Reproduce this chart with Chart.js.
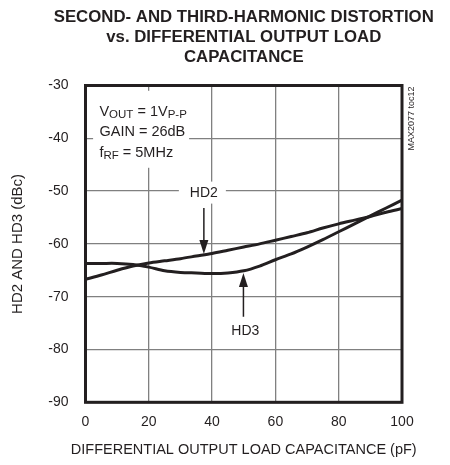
<!DOCTYPE html>
<html>
<head>
<meta charset="utf-8">
<script src="https://cdn.jsdelivr.net/npm/chart.js@4.4.0/dist/chart.umd.min.js"></script>
<style>
  html, body { margin: 0; padding: 0; background: #fff; }
</style>
</head>
<body>
<canvas id="distChart" width="450" height="465"></canvas>
<script>
// Values (pF vs dBc)
const capPf = [0, 5, 10, 15, 20, 25, 30, 35, 40, 45, 50, 55, 60, 65, 70, 75, 80, 85, 90, 95, 100];
const hd2 = [-66.7, -65.9, -65.0, -64.2, -63.6, -63.2, -62.8, -62.3, -61.8, -61.2, -60.6, -60.0, -59.3, -58.6, -57.9, -57.0, -56.2, -55.5, -54.8, -54.0, -53.3];
const hd3 = [-63.7, -63.7, -63.7, -63.9, -64.4, -65.1, -65.4, -65.5, -65.6, -65.5, -65.1, -64.2, -63.0, -61.9, -60.6, -59.2, -57.7, -56.2, -54.7, -53.2, -51.7];

const xTicks = [0, 20, 40, 60, 80, 100];
const yTicks = [-90, -80, -70, -60, -50, -40, -30];

const titleLines = ['SECOND- AND THIRD-HARMONIC DISTORTION', 'vs. DIFFERENTIAL OUTPUT LOAD', 'CAPACITANCE'];
const xTitle = 'DIFFERENTIAL OUTPUT LOAD CAPACITANCE (pF)';
const yTitle = 'HD2 AND HD3 (dBc)';
const tocLabel = 'MAX2077 toc12';
// test conditions, second item = subscript
const condLines = [
    [['V', 0], ['OUT', 1], [' = 1V', 0], ['P-P', 1]],
    [['GAIN = 26dB', 0]],
    [['f', 0], ['RF', 1], [' = 5MHz', 0]]
];

const INK = '#231f20';
const GRID = '#808080';
const FONT = '"Liberation Sans", Arial, Helvetica, sans-serif';

function drawArrow(ctx, x, yFrom, yTip) {
    const dir = yTip > yFrom ? 1 : -1;
    ctx.lineWidth = 1.5;
    ctx.beginPath();
    ctx.moveTo(x, yFrom);
    ctx.lineTo(x, yTip - dir * 10);
    ctx.stroke();
    ctx.beginPath();
    ctx.moveTo(x, yTip);
    ctx.lineTo(x - 4.5, yTip - dir * 14);
    ctx.lineTo(x + 4.5, yTip - dir * 14);
    ctx.closePath();
    ctx.fill();
}

const notesPlugin = {
    id: 'notes',
    beforeDatasetsDraw(chart) {
        const { ctx, scales: { x, y } } = chart;
        ctx.save();

        // white patches that knock out the grid behind the labels
        ctx.fillStyle = '#fff';
        ctx.fillRect(x.getPixelForValue(2.4), y.getPixelForValue(-31), 96, 77);
        ctx.fillRect(x.getPixelForValue(29.5), y.getPixelForValue(-48.2), 47, 22);
        ctx.fillRect(x.getPixelForValue(45.5), y.getPixelForValue(-74.8), 33, 20);

        ctx.fillStyle = INK;
        ctx.strokeStyle = INK;

        // test conditions
        const left = x.getPixelForValue(4.4);
        const baselines = [-35.7, -39.5, -43.5];
        condLines.forEach((runs, i) => {
            let cx = left;
            const base = y.getPixelForValue(baselines[i]);
            ctx.textBaseline = 'alphabetic';
            ctx.textAlign = 'left';
            runs.forEach(([txt, sub]) => {
                ctx.font = (sub ? '11.5px ' : '14.5px ') + FONT;
                ctx.fillText(txt, cx, base + (sub ? 2.5 : 0));
                cx += ctx.measureText(txt).width;
            });
        });

        // curve labels with arrows
        ctx.font = '14px ' + FONT;
        ctx.textAlign = 'center';
        ctx.textBaseline = 'middle';
        ctx.fillText('HD2', x.getPixelForValue(37.4), y.getPixelForValue(-50.4));
        drawArrow(ctx, x.getPixelForValue(37.4), y.getPixelForValue(-53.2), y.getPixelForValue(-61.9));
        ctx.fillText('HD3', x.getPixelForValue(50.5), y.getPixelForValue(-76.6));
        drawArrow(ctx, x.getPixelForValue(49.9), y.getPixelForValue(-73.8), y.getPixelForValue(-65.5));
        ctx.restore();
    },
    afterDraw(chart) {
        const { ctx, chartArea: a } = chart;
        const midX = (a.left + a.right) / 2;
        ctx.save();
        ctx.strokeStyle = INK;
        ctx.lineWidth = 3;
        ctx.strokeRect(a.left, a.top, a.right - a.left, a.bottom - a.top);

        ctx.fillStyle = INK;
        ctx.textAlign = 'center';
        ctx.textBaseline = 'middle';

        // chart title, centred over the plot
        ctx.font = 'bold 16.8px ' + FONT;
        titleLines.forEach((t, i) => ctx.fillText(t, midX, 17 + i * 20));

        // x axis title
        ctx.font = '14.5px ' + FONT;
        ctx.fillText(xTitle, midX, a.bottom + 48);

        // figure id, rotated along the right edge
        ctx.translate(a.right + 9.5, a.top + 33);
        ctx.rotate(-Math.PI / 2);
        ctx.font = '9px ' + FONT;
        ctx.fillText(tocLabel, 0, 0);
        ctx.restore();
    }
};

function lineSet(label, values) {
    return {
        label: label,
        data: capPf.map((c, i) => ({ x: c, y: values[i] })),
        borderColor: INK,
        borderWidth: 3,
        pointRadius: 0,
        tension: 0.3,
        fill: false
    };
}

new Chart(document.getElementById('distChart'), {
    type: 'line',
    data: {
        datasets: [lineSet('HD2', hd2), lineSet('HD3', hd3)]
    },
    options: {
        responsive: false,
        animation: false,
        layout: { padding: { left: 0, right: 48, top: 85.5, bottom: 0 } },
        plugins: {
            legend: { display: false },
            tooltip: { enabled: false },
            title: { display: false }
        },
        scales: {
            x: {
                type: 'linear',
                min: 0,
                max: 100,
                afterBuildTicks: s => { s.ticks = xTicks.map(v => ({ value: v })); },
                afterFit: s => { s.height = 62.7; },
                grid: { color: GRID, lineWidth: 1.3, drawTicks: false },
                border: { display: false },
                ticks: { padding: 11, color: INK, font: { family: FONT, size: 14 } }
            },
            y: {
                min: -90,
                max: -30,
                afterBuildTicks: s => { s.ticks = yTicks.map(v => ({ value: v })); },
                afterFit: s => { s.width = 85.5; },
                grid: { color: GRID, lineWidth: 1.3, drawTicks: false },
                border: { display: false },
                ticks: { padding: 17, color: INK, font: { family: FONT, size: 14 } },
                title: { display: true, text: yTitle, color: INK, font: { family: FONT, size: 15 }, padding: { top: 9, bottom: 0 } }
            }
        }
    },
    plugins: [notesPlugin]
});
</script>
</body>
</html>
